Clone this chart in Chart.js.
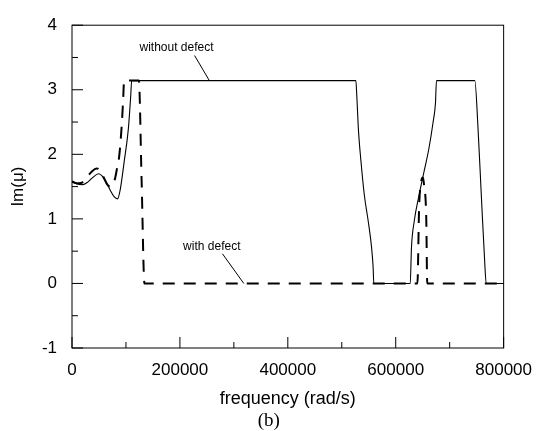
<!DOCTYPE html>
<html>
<head>
<meta charset="utf-8">
<script src="https://cdn.jsdelivr.net/npm/chart.js@4/dist/chart.umd.min.js"></script>
<style>
  html, body { margin: 0; padding: 0; background: #fff; }
  #wrap { width: 544px; height: 431px; position: relative; }
</style>
</head>
<body>
<div id="wrap"><canvas id="c" width="544" height="431"></canvas></div>
<script>
// ---- data ----
const freqWithout = [0, 9100, 20000, 29200, 38300, 49200, 56500, 63800, 71100, 78400, 84400, 89300, 96600, 104400, 108800, 110600,
  526100, 527900, 530800, 535700, 541800, 549100, 555200, 558100, 559400,
  626900, 629200, 634200, 643300, 652400, 661500, 669300, 673700, 675500,
  746600, 752600, 758600, 764800, 767700, 800000];
const imWithout = [1.57, 1.54, 1.53, 1.57, 1.64, 1.70, 1.66, 1.56, 1.44, 1.34, 1.31, 1.45, 1.88, 2.39, 2.90, 3.1416,
  3.1416, 2.90, 2.39, 1.88, 1.37, 0.96, 0.56, 0.25, 0,
  0, 0.56, 0.96, 1.37, 1.73, 2.09, 2.50, 2.80, 3.1416,
  3.1416, 2.39, 1.37, 0.35, 0, 0];

const freqWith = [0, 9100, 18200, 27300, 36400, 45600, 51000, 58300, 65600, 71100, 76500, 80200, 83800, 87500, 92400, 94800, 96600,
  123900, 129000, 134300,
  640200, 643300, 646300, 650500, 652400, 656600, 658400, 800000];
const imWith = [1.58, 1.55, 1.56, 1.64, 1.73, 1.78, 1.76, 1.65, 1.53, 1.50, 1.54, 1.64, 1.80, 1.97, 2.48, 2.85, 3.1416,
  3.1416, 1.60, 0,
  0, 1.17, 1.53, 1.64, 1.53, 1.00, 0, 0];

const xTickValues = [0, 200000, 400000, 600000, 800000];
const yTickValues = [-1, 0, 1, 2, 3, 4];

// annotation texts and leader lines (data coordinates)
const noteText = ['without defect', 'with defect'];
const noteFreq = [193700, 259100];
const noteIm = [3.645, 0.57];
const leaderFreqFrom = [227200, 278800];
const leaderImFrom = [3.53, 0.46];
const leaderFreqTo = [254600, 318400];
const leaderImTo = [3.1416, 0];

const FONT = '"Liberation Sans", Arial, sans-serif';

function pts(xs, ys) { return xs.map((v, i) => ({ x: v, y: ys[i] })); }

const decor = {
  id: 'decor',
  afterDatasetsDraw(chart) {
    const { ctx, chartArea: a, scales: { x, y } } = chart;
    ctx.save();
    ctx.strokeStyle = '#000';
    ctx.lineWidth = 1;
    ctx.setLineDash([]);
    ctx.strokeRect(a.left, a.top, a.right - a.left, a.bottom - a.top);
    const line = (x1, y1, x2, y2) => { ctx.beginPath(); ctx.moveTo(x1, y1); ctx.lineTo(x2, y2); ctx.stroke(); };
    // x ticks (major + minor), inward
    const xs = xTickValues[1] - xTickValues[0];
    for (let v = xTickValues[0]; v <= xTickValues[xTickValues.length - 1]; v += xs / 2) {
      const px = x.getPixelForValue(v);
      const major = Math.abs(v / xs - Math.round(v / xs)) < 1e-9;
      line(px, a.bottom, px, a.bottom - (major ? 11 : 6));
    }
    const ys = yTickValues[1] - yTickValues[0];
    for (let v = yTickValues[0]; v <= yTickValues[yTickValues.length - 1] + 1e-9; v += ys / 2) {
      const py = y.getPixelForValue(v);
      const major = Math.abs(v / ys - Math.round(v / ys)) < 1e-9;
      line(a.left, py, a.left + (major ? 11 : 6), py);
    }
    // annotations
    ctx.fillStyle = '#000';
    ctx.font = '12px ' + FONT;
    ctx.textAlign = 'center';
    ctx.textBaseline = 'middle';
    for (let i = 0; i < noteText.length; i++) {
      ctx.fillText(noteText[i], x.getPixelForValue(noteFreq[i]), y.getPixelForValue(noteIm[i]));
      line(x.getPixelForValue(leaderFreqFrom[i]), y.getPixelForValue(leaderImFrom[i]),
           x.getPixelForValue(leaderFreqTo[i]), y.getPixelForValue(leaderImTo[i]));
    }
    // sub-figure label
    ctx.font = '19px "Liberation Serif", "Times New Roman", serif';
    ctx.fillText('(b)', (a.left + a.right) / 2 - 19, 421);
    ctx.restore();
  }
};

new Chart(document.getElementById('c'), {
  type: 'line',
  data: {
    datasets: [
      {
        label: 'with defect',
        data: pts(freqWith, imWith),
        borderColor: '#000',
        borderWidth: 2,
        borderDash: [12, 9],
        pointRadius: 0,
        fill: false,
        cubicInterpolationMode: 'monotone'
      },
      {
        label: 'without defect',
        data: pts(freqWithout, imWithout),
        borderColor: '#000',
        borderWidth: 1.1,
        pointRadius: 0,
        fill: false,
        cubicInterpolationMode: 'monotone'
      }
    ]
  },
  options: {
    responsive: false,
    animation: false,
    devicePixelRatio: 1,
    layout: { padding: { top: 20, right: 33, left: 0, bottom: 0 } },
    plugins: { legend: { display: false }, tooltip: { enabled: false } },
    scales: {
      x: {
        type: 'linear',
        min: 0, max: 800000,
        afterBuildTicks: (s) => { s.ticks = xTickValues.map(v => ({ value: v })); },
        afterFit: (s) => { s.height = 83; },
        grid: { display: false, drawTicks: false },
        border: { display: false },
        ticks: { color: '#000', font: { family: FONT, size: 17 }, padding: 12, maxRotation: 0, autoSkip: false,
                 callback: (v) => String(v) },
        title: { display: true, text: 'frequency (rad/s)', color: '#000', font: { family: FONT, size: 18 },
                 padding: { top: 0, bottom: 21 } }
      },
      y: {
        type: 'linear',
        min: -1, max: 4,
        afterBuildTicks: (s) => { s.ticks = yTickValues.map(v => ({ value: v })); },
        afterFit: (s) => { s.width = 72; },
        grid: { display: false, drawTicks: false },
        border: { display: false },
        ticks: { color: '#000', font: { family: FONT, size: 17 }, padding: 15,
                 callback: (v) => String(v) },
        title: { display: true, text: 'Im(μ)', color: '#000', font: { family: FONT, size: 17 },
                 padding: { top: 8, bottom: 0 } }
      }
    }
  },
  plugins: [decor]
});
</script>
</body>
</html>
